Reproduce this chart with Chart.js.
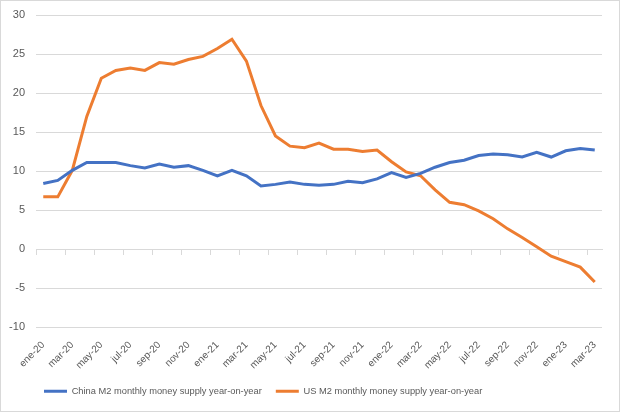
<!DOCTYPE html>
<html>
<head>
<meta charset="utf-8">
<script src="https://cdn.jsdelivr.net/npm/chart.js@4.4.0/dist/chart.umd.min.js"></script>
<style>
html,body{margin:0;padding:0;background:#fff;}
#wrap{position:relative;width:620px;height:412px;box-sizing:border-box;border:1px solid #d9d9d9;}
canvas{display:block;}
</style>
</head>
<body>
<div id="wrap"><canvas id="c" width="618" height="410"></canvas></div>
<script>
const months = ["ene-20","feb-20","mar-20","abr-20","may-20","jun-20","jul-20","ago-20","sep-20","oct-20","nov-20","dic-20",
"ene-21","feb-21","mar-21","abr-21","may-21","jun-21","jul-21","ago-21","sep-21","oct-21","nov-21","dic-21",
"ene-22","feb-22","mar-22","abr-22","may-22","jun-22","jul-22","ago-22","sep-22","oct-22","nov-22","dic-22",
"ene-23","feb-23","mar-23"];
const chinaM2 = [8.4,8.8,10.1,11.1,11.1,11.1,10.7,10.4,10.9,10.5,10.7,10.1,
9.4,10.1,9.4,8.1,8.3,8.6,8.3,8.2,8.3,8.7,8.5,9.0,
9.8,9.2,9.7,10.5,11.1,11.4,12.0,12.2,12.1,11.8,12.4,11.8,
12.6,12.9,12.7];
const usM2 = [6.7,6.7,10.1,17.0,21.9,22.9,23.2,22.9,23.9,23.7,24.3,24.7,
25.7,26.9,24.1,18.4,14.5,13.2,13.0,13.6,12.8,12.8,12.5,12.7,
11.2,9.9,9.4,7.6,6.0,5.7,4.9,3.9,2.6,1.5,0.3,-0.9,
-1.6,-2.3,-4.2];
const yTicks = [-10,-5,0,5,10,15,20,25,30];
const seriesNames = ["China M2 monthly money supply year-on-year","US M2 monthly money supply year-on-year"];

const txt = '#595959';
const grid = '#d9d9d9';
const fontFam = '"Liberation Sans", Arial, sans-serif';

const legendShift = {
  id: 'legendShift',
  afterLayout(chart){ if (chart.legend) { chart.legend.left += 29; } }
};

new Chart(document.getElementById('c'), {
  type: 'line',
  data: {
    labels: months,
    datasets: [
      {label: seriesNames[0], data: chinaM2, borderColor: '#4472C4', backgroundColor: '#4472C4', borderWidth: 3, pointRadius: 0, tension: 0, fill: false},
      {label: seriesNames[1], data: usM2, borderColor: '#ED7D31', backgroundColor: '#ED7D31', borderWidth: 3, pointRadius: 0, tension: 0, fill: false}
    ]
  },
  plugins: [legendShift],
  options: {
    responsive: false,
    animation: false,
    layout: {padding: {left: 0, right: 17, top: 14, bottom: 5}},
    scales: {
      x: {
        type: 'category',
        offset: true,
        grid: {display: false, drawTicks: false},
        border: {display: false},
        ticks: {
          autoSkip: false, maxRotation: 45, minRotation: 45, padding: 12,
          color: txt, font: {family: fontFam, size: 10},
          callback: function(v, i){ return i % 2 === 0 ? months[i] : ''; }
        },
        afterFit: function(s){ s.paddingLeft = 0; s.paddingRight = 0; s.height = 45.5; }
      },
      x2: {
        type: 'category',
        position: {y: 0},
        offset: true,
        grid: {
          drawOnChartArea: false, drawTicks: true, tickLength: 5, offset: true,
          color: function(ctx){ return (ctx.index !== undefined && ctx.index % 2 === 0) ? grid : 'rgba(0,0,0,0)'; }
        },
        border: {display: true, color: grid, width: 1},
        ticks: {display: false, autoSkip: false}
      },
      y: {
        min: -10, max: 30,
        afterBuildTicks: function(s){ s.ticks = yTicks.map(v => ({value: v})); },
        grid: {color: grid, drawTicks: false},
        border: {display: false},
        ticks: {padding: 11, color: txt, font: {family: fontFam, size: 11}},
        afterFit: function(s){ s.width = 35; s.paddingTop = 0; s.paddingBottom = 0; }
      }
    },
    plugins: {
      legend: {
        position: 'bottom',
        align: 'start',
        labels: {
          boxWidth: 23, boxHeight: 3, padding: 14,
          color: txt, font: {family: fontFam, size: 9.3},
          generateLabels: function(chart){
            const items = Chart.defaults.plugins.legend.labels.generateLabels(chart);
            items.forEach(it => { it.lineWidth = 0; it.fillStyle = it.strokeStyle; });
            return items;
          }
        }
      },
      tooltip: {enabled: false}
    }
  }
});
</script>
</body>
</html>
